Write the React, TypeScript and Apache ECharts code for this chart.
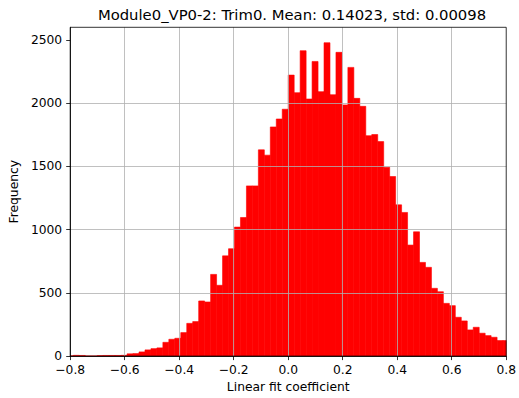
import React, { useEffect, useRef } from "react";
import * as echarts from "echarts";

// Histogram: bin k spans [k*BIN_WIDTH, (k+1)*BIN_WIDTH], k from FIRST_BIN
const BIN_WIDTH = 0.0219;
const FIRST_BIN = -37;
const counts = [
  2, 6, 5, 1, 1, 4, 5, 5, 5, 6,
  18, 20, 33, 49, 59, 65, 109, 133, 141, 186,
  259, 273, 436, 428, 646, 560, 793, 849, 1020, 1096,
  1346, 1346, 1631, 1589, 1812, 1875, 1952,
  2222, 2083, 2415, 2033, 2330, 2091, 2478, 2067, 2402, 1986,
  2283, 2038, 1975, 1743, 1752, 1696, 1494, 1420, 1196, 1136,
  878, 983, 741, 702, 536, 509, 417, 399, 307, 278,
  207, 228, 181, 162, 149, 123, 123,
];
const xTicks = [-0.8, -0.6, -0.4, -0.2, 0.0, 0.2, 0.4, 0.6, 0.8];
const yTicks = [0, 500, 1000, 1500, 2000, 2500];
const TITLE = "Module0_VP0-2: Trim0. Mean: 0.14023, std: 0.00098";
const X_NAME = "Linear fit coefficient";
const Y_NAME = "Frequency";

const FONT = "DejaVu Sans";

export default function App() {
  const ref = useRef<HTMLDivElement>(null);
  useEffect(() => {
    if (!ref.current) return;
    const chart = echarts.init(ref.current, undefined, { renderer: "svg" });
    const data = counts.map((c, i) => {
      const k = FIRST_BIN + i;
      return [k * BIN_WIDTH, (k + 1) * BIN_WIDTH, c];
    });
    const fmt = (v: number) => {
      const s = Math.abs(v).toFixed(1);
      return v < -1e-9 ? "\u2212" + s : s;
    };
    chart.setOption({
      animation: false,
      backgroundColor: "#fff",
      title: {
        text: TITLE,
        left: 287,
        textAlign: "center",
        top: 2,
        textStyle: { fontFamily: FONT, fontSize: 14.8, fontWeight: "normal", color: "#000" },
      },
      grid: {
        left: 69.3,
        top: 27.3,
        width: 442.4,
        height: 329.9,
        show: true,
        z: 10,
        borderColor: "#000",
        borderWidth: 0.8,
        backgroundColor: "transparent",
      },
      xAxis: {
        type: "value",
        min: xTicks[0],
        max: xTicks[xTicks.length - 1],
        interval: 0.2,
        z: 5,
        name: X_NAME,
        nameLocation: "middle",
        nameGap: 24,
        nameTextStyle: { fontFamily: FONT, fontSize: 12.3, color: "#000" },
        axisLine: { show: true, onZero: false, lineStyle: { color: "#000", width: 0.8 } },
        axisTick: { show: true, length: 4, lineStyle: { color: "#000", width: 0.8 } },
        axisLabel: { margin: 8, fontFamily: FONT, fontSize: 12.3, color: "#000", formatter: fmt },
        splitLine: { show: true, showMinLine: false, showMaxLine: false, lineStyle: { color: "#b0b0b0", width: 0.8 } },
      },
      yAxis: {
        type: "value",
        min: 0,
        max: 2600,
        interval: 500,
        z: 5,
        name: Y_NAME,
        nameLocation: "middle",
        nameGap: 42,
        nameTextStyle: { fontFamily: FONT, fontSize: 12.3, color: "#000" },
        axisLine: { show: true, onZero: false, lineStyle: { color: "#000", width: 0.8 } },
        axisTick: { show: true, length: 4, lineStyle: { color: "#000", width: 0.8 }, customValues: yTicks },
        axisLabel: {
          margin: 8,
          fontFamily: FONT,
          fontSize: 12.3,
          color: "#000",
          customValues: yTicks,
          formatter: (v: number) => String(v),
        },
        splitLine: { show: true, showMinLine: false, showMaxLine: false, lineStyle: { color: "#b0b0b0", width: 0.8 } },
      },
      series: [
        {
          type: "custom",
          z: 2,
          data,
          encode: { x: [0, 1], y: 2 },
          renderItem: (params: any, api: any) => {
            const p0 = api.coord([api.value(0), api.value(2)]);
            const p1 = api.coord([api.value(1), 0]);
            const rect = echarts.graphic.clipRectByRect(
              { x: p0[0], y: p0[1], width: p1[0] - p0[0], height: p1[1] - p0[1] },
              params.coordSys
            );
            if (!rect) return null;
            return {
              type: "rect",
              shape: rect,
              style: { fill: "#ff0000", stroke: "#ff0000", lineWidth: 0.6 },
            };
          },
        },
      ],
    });
    return () => chart.dispose();
  }, []);
  return (
    <div
      ref={ref}
      style={{ position: "fixed", left: 0, top: 0, width: 519, height: 398 }}
    />
  );
}
